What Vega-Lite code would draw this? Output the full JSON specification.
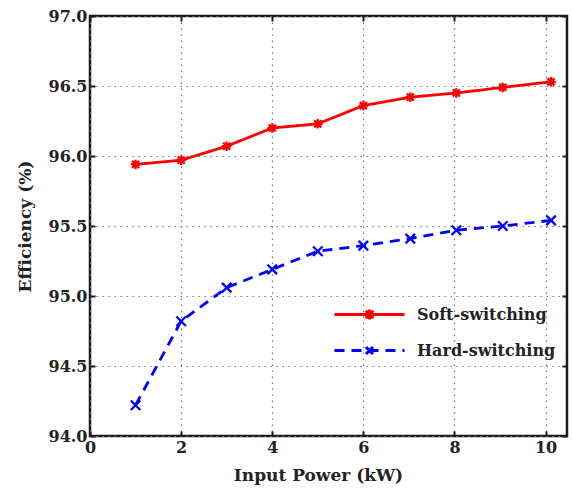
{
  "$schema": "https://vega.github.io/schema/vega-lite/v6.json",
  "width": 477,
  "height": 420,
  "autosize": "none",
  "padding": {"left": 90, "top": 16, "right": 6, "bottom": 55},
  "background": "white",
  "config": {
    "font": "DejaVu Serif",
    "view": {"stroke": "#1a1a1a", "strokeWidth": 2.5},
    "axis": {
      "labelFont": "DejaVu Serif",
      "labelFontWeight": "bold",
      "labelFontSize": 16,
      "labelColor": "#222",
      "labelFlush": false,
      "titleFont": "DejaVu Serif",
      "titleFontWeight": "bold",
      "titleFontSize": 17,
      "titleColor": "#222",
      "domain": false,
      "tickColor": "#1a1a1a",
      "tickWidth": 2,
      "tickSize": -5,
      "labelPadding": 8,
      "gridColor": "#777",
      "gridDash": [1.5, 4.5],
      "gridWidth": 1.2
    },
    "legend": {
      "labelFont": "DejaVu Serif",
      "labelFontWeight": "bold",
      "labelFontSize": 16,
      "labelColor": "#222"
    }
  },
  "data": {
    "values": [
      {"Power": 1.0, "Efficiency": 95.94, "Series": "Soft-switching"},
      {"Power": 2.0, "Efficiency": 95.97, "Series": "Soft-switching"},
      {"Power": 3.0, "Efficiency": 96.07, "Series": "Soft-switching"},
      {"Power": 4.0, "Efficiency": 96.20, "Series": "Soft-switching"},
      {"Power": 5.0, "Efficiency": 96.23, "Series": "Soft-switching"},
      {"Power": 6.0, "Efficiency": 96.36, "Series": "Soft-switching"},
      {"Power": 7.03, "Efficiency": 96.42, "Series": "Soft-switching"},
      {"Power": 8.04, "Efficiency": 96.45, "Series": "Soft-switching"},
      {"Power": 9.06, "Efficiency": 96.49, "Series": "Soft-switching"},
      {"Power": 10.12, "Efficiency": 96.53, "Series": "Soft-switching"},
      {"Power": 1.0, "Efficiency": 94.22, "Series": "Hard-switching"},
      {"Power": 2.0, "Efficiency": 94.82, "Series": "Hard-switching"},
      {"Power": 3.0, "Efficiency": 95.06, "Series": "Hard-switching"},
      {"Power": 4.0, "Efficiency": 95.19, "Series": "Hard-switching"},
      {"Power": 5.0, "Efficiency": 95.32, "Series": "Hard-switching"},
      {"Power": 6.0, "Efficiency": 95.36, "Series": "Hard-switching"},
      {"Power": 7.03, "Efficiency": 95.41, "Series": "Hard-switching"},
      {"Power": 8.04, "Efficiency": 95.47, "Series": "Hard-switching"},
      {"Power": 9.06, "Efficiency": 95.50, "Series": "Hard-switching"},
      {"Power": 10.12, "Efficiency": 95.54, "Series": "Hard-switching"}
    ]
  },
  "resolve": {
    "axis": {"x": "independent", "y": "independent"},
    "scale": {"shape": "independent"},
    "legend": {"color": "independent", "strokeDash": "independent", "shape": "independent"}
  },
  "layer": [
    {
      "mark": {"type": "point", "opacity": 0},
      "encoding": {
        "x": {"field": "Power", "type": "quantitative", "scale": {"domain": [0, 10.47], "nice": false},
              "axis": {"orient": "top", "labels": false, "grid": false, "title": null, "values": [0, 2, 4, 6, 8, 10]}},
        "y": {"field": "Efficiency", "type": "quantitative", "scale": {"domain": [94, 97], "nice": false, "zero": false},
              "axis": {"orient": "right", "labels": false, "grid": false, "title": null, "values": [94, 94.5, 95, 95.5, 96, 96.5, 97]}}
      }
    },
    {
      "mark": {"type": "line", "strokeWidth": 2.8},
      "encoding": {
        "x": {"field": "Power", "type": "quantitative",
              "axis": {"orient": "bottom", "grid": true, "title": "Input Power (kW)", "titleX": 228, "values": [0, 2, 4, 6, 8, 10], "format": "d", "titlePadding": 12}},
        "y": {"field": "Efficiency", "type": "quantitative",
              "axis": {"orient": "left", "grid": true, "title": "Efficiency (%)", "values": [94, 94.5, 95, 95.5, 96, 96.5, 97], "format": ".1f", "titlePadding": 14}},
        "color": {"field": "Series", "type": "nominal", "scale": {"domain": ["Soft-switching", "Hard-switching"], "range": ["#ff0000", "#0000ff"]}, "legend": null},
        "strokeDash": {"field": "Series", "type": "nominal", "scale": {"domain": ["Soft-switching", "Hard-switching"], "range": [[1, 0], [10, 7]]}, "legend": null}
      }
    },
    {
      "mark": {"type": "point", "filled": false, "strokeWidth": 2.3, "opacity": 1},
      "encoding": {
        "x": {"field": "Power", "type": "quantitative", "axis": null},
        "y": {"field": "Efficiency", "type": "quantitative", "axis": null},
        "color": {"field": "Series", "type": "nominal", "legend": null},
        "shape": {"field": "Series", "type": "nominal", "legend": null,
                  "scale": {"domain": ["Soft-switching", "Hard-switching"],
                            "range": ["M0,-1L0,1M-1,0L1,0M-0.75,-0.75L0.75,0.75M-0.75,0.75L0.75,-0.75", "M-1,-1L1,1M-1,1L1,-1"]}},
        "size": {"value": 90}
      }
    },
    {
      "transform": [{"filter": "datum.Power < 0"}],
      "mark": {"type": "point", "filled": false, "strokeWidth": 3, "opacity": 1},
      "encoding": {
        "x": {"field": "Power", "type": "quantitative", "axis": null},
        "y": {"field": "Efficiency", "type": "quantitative", "axis": null},
        "color": {"field": "Series", "type": "nominal",
                  "legend": {"title": null, "orient": "none", "legendX": 264, "legendY": 283, "labelOffset": 32, "rowPadding": 9, "symbolStrokeWidth": 3, "symbolSize": 784}},
        "strokeDash": {"field": "Series", "type": "nominal"},
        "shape": {"field": "Series", "type": "nominal",
                  "scale": {"domain": ["Soft-switching", "Hard-switching"],
                            "range": ["M-2.5,0L2.5,0M0,-0.36L0,0.36M-0.36,0L0.36,0M-0.27,-0.27L0.27,0.27M-0.27,0.27L0.27,-0.27", "M-2.5,0L2.5,0M-0.25,-0.25L0.25,0.25M-0.25,0.25L0.25,-0.25"]}},
        "size": {"value": 784}
      }
    }
  ]
}
